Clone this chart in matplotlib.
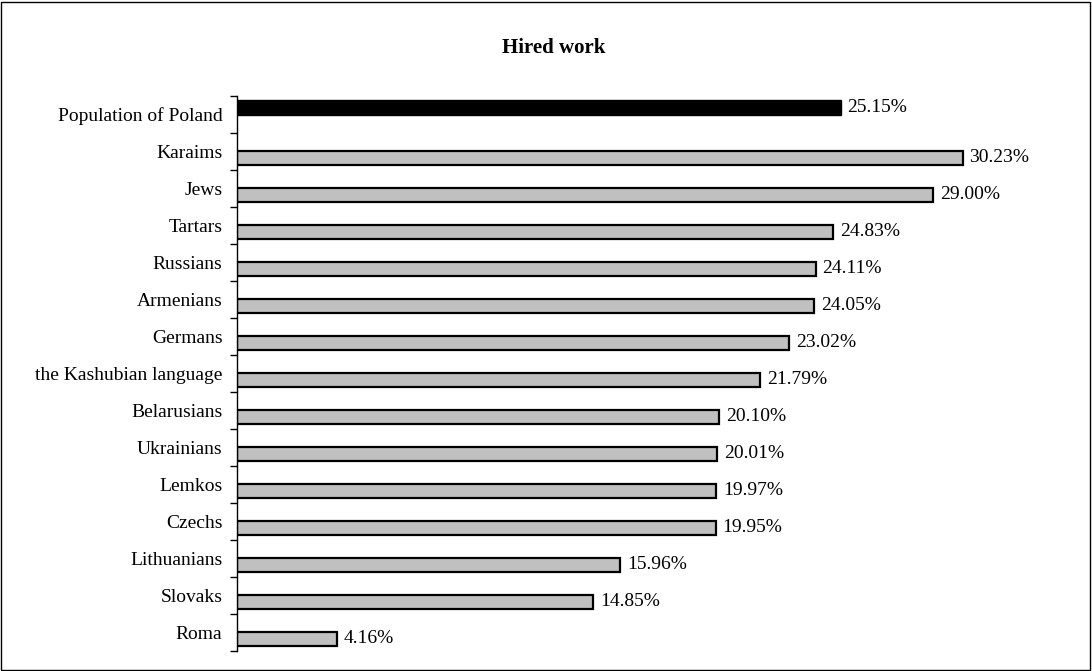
import matplotlib
matplotlib.use("Agg")
import matplotlib.pyplot as plt
from matplotlib.patches import Rectangle
import numpy as np

plt.rcParams['font.family'] = ['Liberation Serif', 'DejaVu Serif']

categories = ["Population of Poland", "Karaims", "Jews", "Tartars", "Russians",
              "Armenians", "Germans", "the Kashubian language", "Belarusians",
              "Ukrainians", "Lemkos", "Czechs", "Lithuanians", "Slovaks", "Roma"]
values = [25.15, 30.23, 29.00, 24.83, 24.11, 24.05, 23.02, 21.79, 20.10,
          20.01, 19.97, 19.95, 15.96, 14.85, 4.16]
title = "Hired work"

W, H = 1092, 671
fig = plt.figure(figsize=(W / 100, H / 100), dpi=100)
ax = fig.add_axes([237 / W, (H - 651) / H, 816 / W, 555 / H])

n = len(categories)
pos = np.arange(n)
bar_h = 0.40
for i, (c, v) in enumerate(zip(categories, values)):
    if i == 0:
        y = i - 0.19
        ax.barh(y, v, height=bar_h, color='black', edgecolor='black', linewidth=1.0)
    else:
        y = i + 0.175
        ax.barh(y, v, height=bar_h, color='#C0C0C0', edgecolor='black', linewidth=1.6)
    ax.text(v + 0.28, y, f"{v:.2f}%", va='center', ha='left', fontsize=14)

ax.set_xlim(0, 34)
ax.set_ylim(n - 0.5, -0.5)
ax.set_yticks(pos)
ax.set_yticklabels(categories, fontsize=14)
ax.tick_params(axis='y', which='major', length=0, pad=10.5)
ax.set_yticks(np.arange(-0.5, n, 1), minor=True)
ax.tick_params(axis='y', which='minor', length=5, width=1, direction='out')
ax.set_xticks([])
for s in ['top', 'right', 'bottom']:
    ax.spines[s].set_visible(False)
ax.spines['left'].set_linewidth(1)

fig.text(554 / W, 1 - 48 / H, title, ha='center', va='center', fontsize=15, fontweight='bold')

fig.patches.append(Rectangle((1 / W, 1 / H), (W - 3) / W, (H - 3) / H, transform=fig.transFigure,
                             fill=False, edgecolor='black', linewidth=1.0))

fig.savefig("out.png", dpi=100)
